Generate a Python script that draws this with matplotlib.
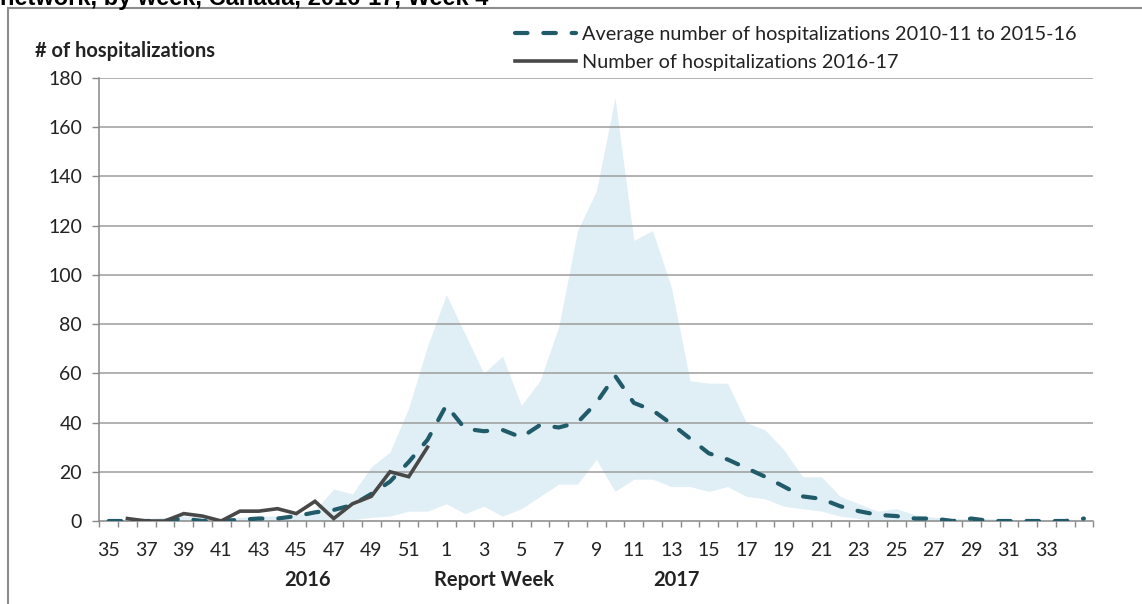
import matplotlib
matplotlib.use('Agg')
import matplotlib.pyplot as plt
import matplotlib.transforms as mtransforms
from matplotlib.patches import Rectangle

plt.rcParams['font.family'] = ['Lato', 'DejaVu Sans']

# report weeks, 2016 week 35 to 2017 week 35
weeks = list(range(35, 53)) + list(range(1, 36))

# average 2010-11 to 2015-16
avg_hosp = [0, 0, 0, 0, 1, 0, 0, 0.5, 1, 1, 2, 3.5, 4.5, 6.5, 11, 16, 24, 33,
            47, 37.5, 36.5, 37, 34, 39, 38, 40, 48, 59, 48, 45, 39.5, 33.5,
            27.5, 25, 21.5, 18, 14, 10, 9, 6, 4, 2.5, 2, 1, 1, 0, 1, 0, 0,
            0, 0, 0, 1]

# min / max band of previous seasons
band_high = [0, 0.5, 1, 1.5, 2, 1.5, 1, 1.5, 2, 2, 2.5, 4.5, 13, 11, 22, 28,
             46, 71, 92, 76, 60, 67, 47, 57, 79, 118, 134, 172, 114, 118, 95,
             57, 56, 56, 40, 37, 29, 18, 18, 10, 7, 4, 5, 2.5, 1.5, 1, 1, 1,
             0.5, 0.5, 0.5, 0.5, 0.5]
band_low = [0, 0, 0, 0, 0, 0, 0, 0, 0, 0, 0, 0, 0, 0.5, 1.5, 2, 4, 4, 7, 3,
            6, 2, 5, 10, 15, 15, 25, 12, 17, 17, 14, 14, 12, 14, 10, 9, 6, 5,
            4, 2, 1, 0, 0, 0, 0, 0, 0, 0, 0, 0, 0, 0, 0]

# 2016-17 season, weeks 36 to 52
cur_weeks = list(range(36, 53))
cur_hosp = [1, 0, 0, 3, 2, 0, 4, 4, 5, 3, 8, 1, 7, 10, 20, 18, 30]

yticks = list(range(0, 181, 20))

COL_AVG = '#215a69'
COL_CUR = '#484848'
COL_BAND = '#e0eff5'
COL_GRID = '#9c9c9c'
COL_TXT = '#222222'

x = list(range(len(weeks)))
x_cur = [weeks.index(w) for w in cur_weeks]

fig = plt.figure(figsize=(11.42, 6.04), dpi=100)
ax = fig.add_axes([99.3/1142, 1 - 521/604, 994/1142, 443/604])

ax.fill_between(x, band_low, band_high, color=COL_BAND, lw=0, zorder=1)
for v in yticks[1:]:
    ax.axhline(v, color=COL_GRID, lw=1.1, zorder=1.5)

ln_avg, = ax.plot(x, avg_hosp, color=COL_AVG, lw=3.0, ls=(0, (3.0, 3.8)),
                  dash_capstyle='round', zorder=3,
                  label='Average number of hospitalizations 2010-11 to 2015-16')
ln_cur, = ax.plot(x_cur, cur_hosp, color=COL_CUR, lw=2.6, zorder=4,
                  solid_joinstyle='miter',
                  label='Number of hospitalizations 2016-17')

ax.set_xlim(-0.5, len(weeks) - 0.5)
ax.set_ylim(0, 180)
ax.set_yticks(yticks)
ax.tick_params(axis='y', length=5.4, width=1, color='#888888',
               pad=7, labelsize=14, labelcolor=COL_TXT)

# every other week labelled, last week (35) has no label
ax.set_xticks(x[:-1:2])
ax.set_xticklabels([str(w) for w in weeks[:-1:2]])
ax.set_xticks([i - 0.5 for i in range(len(weeks) + 1)], minor=True)
ax.tick_params(axis='x', which='major', length=0, pad=15, labelsize=14,
               labelcolor=COL_TXT)
ax.tick_params(axis='x', which='minor', length=4.5, width=1, color='#888888')

for s in ['top', 'right']:
    ax.spines[s].set_visible(False)
for s in ['left', 'bottom']:
    ax.spines[s].set_color('#888888')
    ax.spines[s].set_linewidth(1.1)

# titles and labels
ax.text(-0.0647, 1.060, '# of hospitalizations', transform=ax.transAxes,
        fontsize=14.5, fontweight='bold', color=COL_TXT, va='center', ha='left')
trans = mtransforms.blended_transform_factory(ax.transData, ax.transAxes)
for xpos, txt in [(10.58, '2016'), (20.55, 'Report Week'), (30.25, '2017')]:
    ax.text(xpos, -0.133, txt, transform=trans, ha='center', va='center',
            fontsize=14.5, fontweight='bold', color=COL_TXT)

ax.legend(handles=[ln_avg, ln_cur], loc='upper left',
          bbox_to_anchor=(0.418, 1.117), frameon=False, fontsize=14.3,
          handlelength=3.1, handletextpad=0.3, labelspacing=0.55,
          borderpad=0, borderaxespad=0, labelcolor=COL_TXT)

# cut-off title from the page above
fig.text(0.0, 1 - 4.5/604, 'network, by week, Canada, 2016-17, Week 4',
         fontsize=17, fontweight='bold', family='Liberation Sans',
         va='baseline', ha='left', color='black')

# outer frame
fig.patches.append(Rectangle((8/1142, -0.1), 1.2, 1.1 - 7.5/604,
                             transform=fig.transFigure, fill=False,
                             edgecolor='#8c8c8c', lw=1.5))

fig.savefig('out.png', dpi=100)
